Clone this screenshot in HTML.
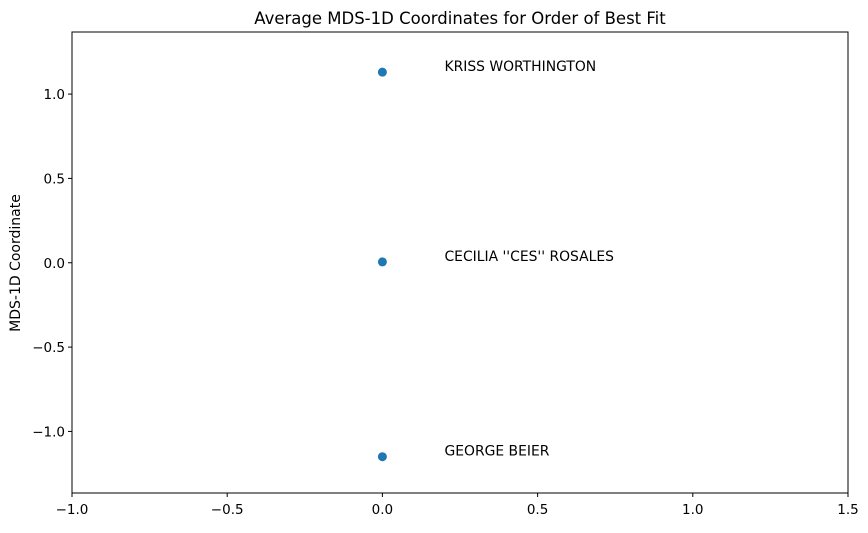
<!DOCTYPE html>
<html><head><meta charset="utf-8"><style>
body{margin:0;background:#fff;}
svg text{font-family:"DejaVu Sans","Liberation Sans",sans-serif;}
</style></head><body>
<svg id="chart" width="868" height="528" xmlns="http://www.w3.org/2000/svg">
<text x="460" y="24" text-anchor="middle" font-size="16.5" fill="#000">Average MDS-1D Coordinates for Order of Best Fit</text>
<text transform="translate(20,263) rotate(-90)" text-anchor="middle" font-size="14" fill="#000">MDS-1D Coordinate</text>
<g id="plot"></g>
<rect x="72" y="32" width="776" height="461" fill="none" stroke="#000" stroke-width="1"/>
</svg>
<script>
const names = ["KRISS WORTHINGTON", "CECILIA ''CES'' ROSALES", "GEORGE BEIER"];
const xValues = [0, 0, 0];
const yValues = [1.13, 0.005, -1.15];
const xTicks = [-1.0, -0.5, 0.0, 0.5, 1.0, 1.5];
const yTicks = [-1.0, -0.5, 0.0, 0.5, 1.0];
const X0=72,X1=848,Y0=32,Y1=493;
const xMin=-1,xMax=1.5,yMin=-1.365,yMax=1.368;
const sx=v=>X0+(v-xMin)/(xMax-xMin)*(X1-X0);
const sy=v=>Y1-(v-yMin)/(yMax-yMin)*(Y1-Y0);
const NS="http://www.w3.org/2000/svg";
const g=document.getElementById('plot');
function mk(t,a){const e=document.createElementNS(NS,t);for(const k in a)e.setAttribute(k,a[k]);g.appendChild(e);return e;}
const fmt=v=>(v<0?"\u2212":"")+Math.abs(v).toFixed(1);
xTicks.forEach(v=>{
 const x=sx(v);
 const l=mk('line',{x1:x,x2:x,y1:Y1,y2:Y1+4,stroke:'#000'});
 
 
 const t=mk('text',{x:x,y:Y1+21,'text-anchor':'middle','font-size':'13.5'});t.textContent=fmt(v);
 
 
});
yTicks.forEach(v=>{
 const y=sy(v);
 const l=mk('line',{x1:X0-4,x2:X0,y1:y,y2:y,stroke:'#000'});
 
 
 const t=mk('text',{x:X0-7,y:y+5,'text-anchor':'end','font-size':'13.5'});t.textContent=fmt(v);
 
 
});
names.forEach((n,i)=>{
 const c=mk('circle',{cx:sx(xValues[i]),cy:sy(yValues[i]),r:4.5,fill:'#1f77b4'});
 
 
 const t=mk('text',{x:sx(xValues[i]+0.2),y:sy(yValues[i])-1,'font-size':'13.9'});t.textContent=n;
 
 
});
</script>
</body></html>
